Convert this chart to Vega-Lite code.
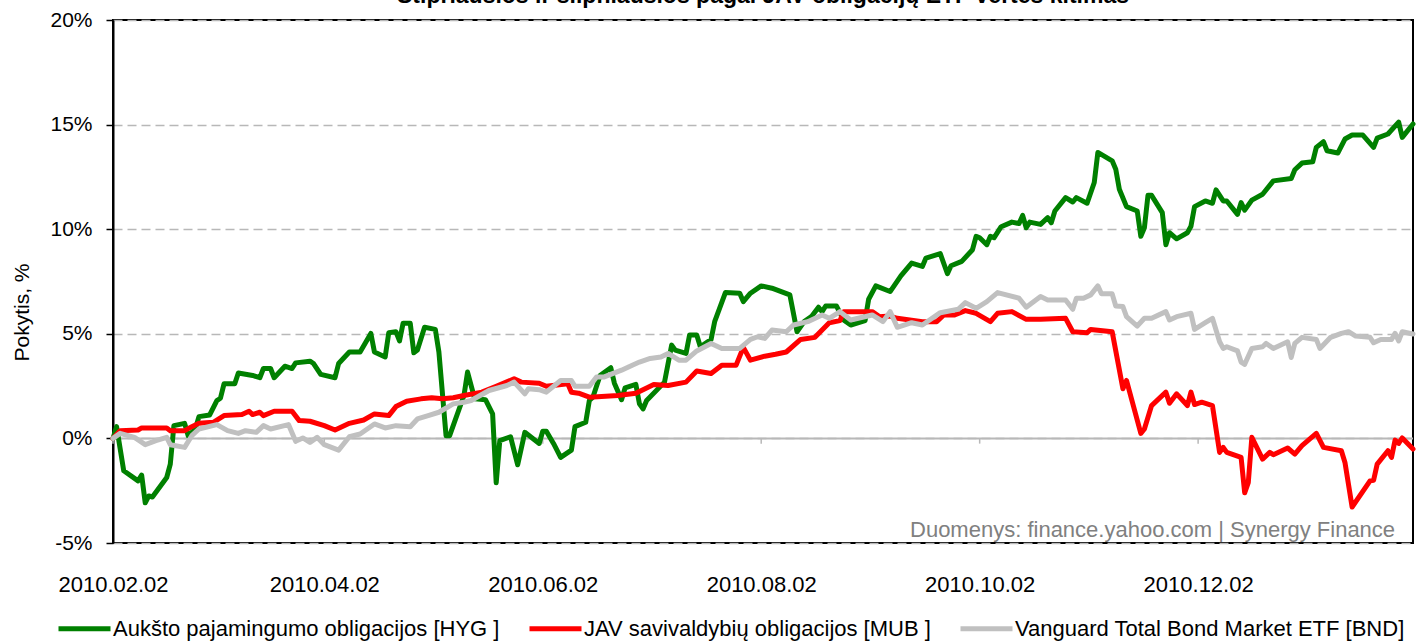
{
"$schema": "https://vega.github.io/schema/vega-lite/v6.json",
"width": 1300, "height": 523,
"autosize": {"type": "none"},
"padding": {"left": 113, "top": 20, "right": 3, "bottom": 98},
"background": "white",
"config": {"view": {"stroke": "#000000", "strokeWidth": 2}, "font": "Liberation Sans"},
"title": {"text": "Stipriausios ir silpniausios pagal JAV obligacijų ETF vertės kitimas", "fontSize": 23, "fontWeight": "bold", "font": "Liberation Sans", "anchor": "middle", "baseline": "alphabetic", "offset": -17, "color": "#000000"},
"datasets": {
"series": [
{"date":"2010-02-02","series":"HYG","value":0},
{"date":"2010-02-03","series":"HYG","value":0.56},
{"date":"2010-02-05","series":"HYG","value":-1.55},
{"date":"2010-02-09","series":"HYG","value":-2.03},
{"date":"2010-02-10","series":"HYG","value":-1.75},
{"date":"2010-02-11","series":"HYG","value":-3.08},
{"date":"2010-02-12","series":"HYG","value":-2.75},
{"date":"2010-02-13","series":"HYG","value":-2.8},
{"date":"2010-02-17","series":"HYG","value":-1.87},
{"date":"2010-02-18","series":"HYG","value":-1.23},
{"date":"2010-02-19","series":"HYG","value":0.61},
{"date":"2010-02-22","series":"HYG","value":0.72},
{"date":"2010-02-23","series":"HYG","value":0.13},
{"date":"2010-02-25","series":"HYG","value":0.45},
{"date":"2010-02-26","series":"HYG","value":1.04},
{"date":"2010-03-01","series":"HYG","value":1.12},
{"date":"2010-03-03","series":"HYG","value":1.81},
{"date":"2010-03-04","series":"HYG","value":1.92},
{"date":"2010-03-05","series":"HYG","value":2.61},
{"date":"2010-03-08","series":"HYG","value":2.61},
{"date":"2010-03-09","series":"HYG","value":3.13},
{"date":"2010-03-13","series":"HYG","value":3.01},
{"date":"2010-03-15","series":"HYG","value":2.9},
{"date":"2010-03-16","series":"HYG","value":3.34},
{"date":"2010-03-18","series":"HYG","value":3.34},
{"date":"2010-03-19","series":"HYG","value":2.9},
{"date":"2010-03-22","series":"HYG","value":3.45},
{"date":"2010-03-24","series":"HYG","value":3.34},
{"date":"2010-03-25","series":"HYG","value":3.61},
{"date":"2010-03-29","series":"HYG","value":3.69},
{"date":"2010-03-30","series":"HYG","value":3.58},
{"date":"2010-04-01","series":"HYG","value":3.06},
{"date":"2010-04-05","series":"HYG","value":2.9},
{"date":"2010-04-06","series":"HYG","value":3.58},
{"date":"2010-04-09","series":"HYG","value":4.13},
{"date":"2010-04-12","series":"HYG","value":4.13},
{"date":"2010-04-15","series":"HYG","value":5.02},
{"date":"2010-04-16","series":"HYG","value":4.13},
{"date":"2010-04-19","series":"HYG","value":3.89},
{"date":"2010-04-20","series":"HYG","value":5.05},
{"date":"2010-04-22","series":"HYG","value":5.1},
{"date":"2010-04-23","series":"HYG","value":4.66},
{"date":"2010-04-24","series":"HYG","value":5.5},
{"date":"2010-04-26","series":"HYG","value":5.5},
{"date":"2010-04-27","series":"HYG","value":4.09},
{"date":"2010-04-28","series":"HYG","value":4.22},
{"date":"2010-04-30","series":"HYG","value":5.31},
{"date":"2010-05-03","series":"HYG","value":5.21},
{"date":"2010-05-04","series":"HYG","value":4.13},
{"date":"2010-05-06","series":"HYG","value":0.13},
{"date":"2010-05-07","series":"HYG","value":0.13},
{"date":"2010-05-11","series":"HYG","value":2.05},
{"date":"2010-05-12","series":"HYG","value":3.17},
{"date":"2010-05-14","series":"HYG","value":1.89},
{"date":"2010-05-17","series":"HYG","value":1.85},
{"date":"2010-05-19","series":"HYG","value":1.17},
{"date":"2010-05-20","series":"HYG","value":-2.12},
{"date":"2010-05-21","series":"HYG","value":-0.11},
{"date":"2010-05-24","series":"HYG","value":0.08},
{"date":"2010-05-26","series":"HYG","value":-1.26},
{"date":"2010-05-28","series":"HYG","value":0.29},
{"date":"2010-06-01","series":"HYG","value":-0.24},
{"date":"2010-06-02","series":"HYG","value":0.34},
{"date":"2010-06-03","series":"HYG","value":0.34},
{"date":"2010-06-05","series":"HYG","value":-0.24},
{"date":"2010-06-07","series":"HYG","value":-0.91},
{"date":"2010-06-10","series":"HYG","value":-0.56},
{"date":"2010-06-11","series":"HYG","value":0.56},
{"date":"2010-06-14","series":"HYG","value":0.77},
{"date":"2010-06-15","series":"HYG","value":1.81},
{"date":"2010-06-16","series":"HYG","value":1.97},
{"date":"2010-06-18","series":"HYG","value":3.01},
{"date":"2010-06-21","series":"HYG","value":3.38},
{"date":"2010-06-22","series":"HYG","value":2.64},
{"date":"2010-06-24","series":"HYG","value":1.85},
{"date":"2010-06-25","series":"HYG","value":2.42},
{"date":"2010-06-28","series":"HYG","value":2.58},
{"date":"2010-06-29","series":"HYG","value":1.65},
{"date":"2010-06-30","series":"HYG","value":1.41},
{"date":"2010-07-01","series":"HYG","value":1.81},
{"date":"2010-07-06","series":"HYG","value":2.69},
{"date":"2010-07-08","series":"HYG","value":4.46},
{"date":"2010-07-09","series":"HYG","value":4.22},
{"date":"2010-07-12","series":"HYG","value":4.06},
{"date":"2010-07-13","series":"HYG","value":4.94},
{"date":"2010-07-15","series":"HYG","value":4.94},
{"date":"2010-07-16","series":"HYG","value":4.38},
{"date":"2010-07-19","series":"HYG","value":4.73},
{"date":"2010-07-20","series":"HYG","value":5.58},
{"date":"2010-07-23","series":"HYG","value":6.97},
{"date":"2010-07-27","series":"HYG","value":6.94},
{"date":"2010-07-28","series":"HYG","value":6.54},
{"date":"2010-07-30","series":"HYG","value":6.94},
{"date":"2010-08-02","series":"HYG","value":7.29},
{"date":"2010-08-05","series":"HYG","value":7.18},
{"date":"2010-08-10","series":"HYG","value":6.86},
{"date":"2010-08-12","series":"HYG","value":5.1},
{"date":"2010-08-14","series":"HYG","value":5.58},
{"date":"2010-08-16","series":"HYG","value":5.82},
{"date":"2010-08-18","series":"HYG","value":6.27},
{"date":"2010-08-19","series":"HYG","value":6.06},
{"date":"2010-08-20","series":"HYG","value":6.33},
{"date":"2010-08-23","series":"HYG","value":6.33},
{"date":"2010-08-25","series":"HYG","value":5.66},
{"date":"2010-08-27","series":"HYG","value":5.42},
{"date":"2010-08-31","series":"HYG","value":5.63},
{"date":"2010-09-01","series":"HYG","value":6.65},
{"date":"2010-09-03","series":"HYG","value":7.29},
{"date":"2010-09-07","series":"HYG","value":7.02},
{"date":"2010-09-10","series":"HYG","value":7.77},
{"date":"2010-09-13","series":"HYG","value":8.38},
{"date":"2010-09-16","series":"HYG","value":8.22},
{"date":"2010-09-17","series":"HYG","value":8.62},
{"date":"2010-09-21","series":"HYG","value":8.83},
{"date":"2010-09-23","series":"HYG","value":7.87},
{"date":"2010-09-24","series":"HYG","value":8.25},
{"date":"2010-09-27","series":"HYG","value":8.46},
{"date":"2010-09-30","series":"HYG","value":9.02},
{"date":"2010-10-01","series":"HYG","value":9.66},
{"date":"2010-10-02","series":"HYG","value":9.59},
{"date":"2010-10-04","series":"HYG","value":9.26},
{"date":"2010-10-05","series":"HYG","value":9.66},
{"date":"2010-10-06","series":"HYG","value":9.59},
{"date":"2010-10-08","series":"HYG","value":10.12},
{"date":"2010-10-11","series":"HYG","value":10.34},
{"date":"2010-10-13","series":"HYG","value":10.27},
{"date":"2010-10-14","series":"HYG","value":10.66},
{"date":"2010-10-15","series":"HYG","value":10.07},
{"date":"2010-10-16","series":"HYG","value":10.34},
{"date":"2010-10-19","series":"HYG","value":10.23},
{"date":"2010-10-21","series":"HYG","value":10.55},
{"date":"2010-10-22","series":"HYG","value":10.31},
{"date":"2010-10-23","series":"HYG","value":10.87},
{"date":"2010-10-26","series":"HYG","value":11.51},
{"date":"2010-10-28","series":"HYG","value":11.3},
{"date":"2010-10-29","series":"HYG","value":11.51},
{"date":"2010-11-01","series":"HYG","value":11.24},
{"date":"2010-11-03","series":"HYG","value":12.23},
{"date":"2010-11-04","series":"HYG","value":13.67},
{"date":"2010-11-08","series":"HYG","value":13.27},
{"date":"2010-11-09","series":"HYG","value":12.87},
{"date":"2010-11-10","series":"HYG","value":11.91},
{"date":"2010-11-12","series":"HYG","value":11.08},
{"date":"2010-11-15","series":"HYG","value":10.87},
{"date":"2010-11-16","series":"HYG","value":9.66},
{"date":"2010-11-17","series":"HYG","value":10.07},
{"date":"2010-11-18","series":"HYG","value":11.62},
{"date":"2010-11-19","series":"HYG","value":11.62},
{"date":"2010-11-22","series":"HYG","value":10.79},
{"date":"2010-11-23","series":"HYG","value":9.26},
{"date":"2010-11-24","series":"HYG","value":9.83},
{"date":"2010-11-26","series":"HYG","value":9.54},
{"date":"2010-11-29","series":"HYG","value":9.83},
{"date":"2010-11-30","series":"HYG","value":10.14},
{"date":"2010-12-01","series":"HYG","value":11.08},
{"date":"2010-12-04","series":"HYG","value":11.35},
{"date":"2010-12-06","series":"HYG","value":11.24},
{"date":"2010-12-07","series":"HYG","value":11.88},
{"date":"2010-12-09","series":"HYG","value":11.35},
{"date":"2010-12-10","series":"HYG","value":11.35},
{"date":"2010-12-13","series":"HYG","value":10.71},
{"date":"2010-12-14","series":"HYG","value":11.27},
{"date":"2010-12-15","series":"HYG","value":10.91},
{"date":"2010-12-17","series":"HYG","value":11.39},
{"date":"2010-12-20","series":"HYG","value":11.67},
{"date":"2010-12-23","series":"HYG","value":12.31},
{"date":"2010-12-28","series":"HYG","value":12.42},
{"date":"2010-12-29","series":"HYG","value":12.84},
{"date":"2010-12-31","series":"HYG","value":13.16},
{"date":"2011-01-03","series":"HYG","value":13.22},
{"date":"2011-01-04","series":"HYG","value":13.91},
{"date":"2011-01-06","series":"HYG","value":14.18},
{"date":"2011-01-07","series":"HYG","value":13.75},
{"date":"2011-01-10","series":"HYG","value":13.64},
{"date":"2011-01-12","series":"HYG","value":14.31},
{"date":"2011-01-14","series":"HYG","value":14.5},
{"date":"2011-01-17","series":"HYG","value":14.5},
{"date":"2011-01-20","series":"HYG","value":13.91},
{"date":"2011-01-21","series":"HYG","value":14.35},
{"date":"2011-01-24","series":"HYG","value":14.55},
{"date":"2011-01-27","series":"HYG","value":15.12},
{"date":"2011-01-28","series":"HYG","value":14.39},
{"date":"2011-01-31","series":"HYG","value":15.03},
{"date":"2010-02-02","series":"MUB","value":0},
{"date":"2010-02-04","series":"MUB","value":0.37},
{"date":"2010-02-09","series":"MUB","value":0.4},
{"date":"2010-02-10","series":"MUB","value":0.5},
{"date":"2010-02-17","series":"MUB","value":0.5},
{"date":"2010-02-18","series":"MUB","value":0.37},
{"date":"2010-02-22","series":"MUB","value":0.37},
{"date":"2010-02-24","series":"MUB","value":0.56},
{"date":"2010-02-26","series":"MUB","value":0.72},
{"date":"2010-03-02","series":"MUB","value":0.77},
{"date":"2010-03-05","series":"MUB","value":1.09},
{"date":"2010-03-10","series":"MUB","value":1.14},
{"date":"2010-03-12","series":"MUB","value":1.3},
{"date":"2010-03-13","series":"MUB","value":1.14},
{"date":"2010-03-15","series":"MUB","value":1.25},
{"date":"2010-03-16","series":"MUB","value":1.09},
{"date":"2010-03-19","series":"MUB","value":1.3},
{"date":"2010-03-24","series":"MUB","value":1.3},
{"date":"2010-03-26","series":"MUB","value":0.85},
{"date":"2010-03-29","series":"MUB","value":0.82},
{"date":"2010-04-02","series":"MUB","value":0.61},
{"date":"2010-04-05","series":"MUB","value":0.4},
{"date":"2010-04-09","series":"MUB","value":0.72},
{"date":"2010-04-13","series":"MUB","value":0.88},
{"date":"2010-04-16","series":"MUB","value":1.17},
{"date":"2010-04-20","series":"MUB","value":1.09},
{"date":"2010-04-22","series":"MUB","value":1.52},
{"date":"2010-04-25","series":"MUB","value":1.78},
{"date":"2010-04-29","series":"MUB","value":1.89},
{"date":"2010-05-02","series":"MUB","value":1.94},
{"date":"2010-05-05","series":"MUB","value":1.89},
{"date":"2010-05-08","series":"MUB","value":1.94},
{"date":"2010-05-11","series":"MUB","value":2.05},
{"date":"2010-05-16","series":"MUB","value":2.21},
{"date":"2010-05-20","series":"MUB","value":2.49},
{"date":"2010-05-25","series":"MUB","value":2.85},
{"date":"2010-05-27","series":"MUB","value":2.69},
{"date":"2010-06-01","series":"MUB","value":2.64},
{"date":"2010-06-03","series":"MUB","value":2.49},
{"date":"2010-06-09","series":"MUB","value":2.61},
{"date":"2010-06-10","series":"MUB","value":2.21},
{"date":"2010-06-12","series":"MUB","value":2.16},
{"date":"2010-06-15","series":"MUB","value":1.97},
{"date":"2010-06-23","series":"MUB","value":2.05},
{"date":"2010-06-28","series":"MUB","value":2.16},
{"date":"2010-07-03","series":"MUB","value":2.58},
{"date":"2010-07-07","series":"MUB","value":2.53},
{"date":"2010-07-12","series":"MUB","value":2.69},
{"date":"2010-07-15","series":"MUB","value":3.22},
{"date":"2010-07-19","series":"MUB","value":3.1},
{"date":"2010-07-22","series":"MUB","value":3.5},
{"date":"2010-07-26","series":"MUB","value":3.5},
{"date":"2010-07-28","series":"MUB","value":4.35},
{"date":"2010-07-30","series":"MUB","value":3.74},
{"date":"2010-08-03","series":"MUB","value":3.93},
{"date":"2010-08-06","series":"MUB","value":4.02},
{"date":"2010-08-09","series":"MUB","value":4.13},
{"date":"2010-08-13","series":"MUB","value":4.73},
{"date":"2010-08-17","series":"MUB","value":4.83},
{"date":"2010-08-21","series":"MUB","value":5.53},
{"date":"2010-08-24","series":"MUB","value":5.63},
{"date":"2010-08-25","series":"MUB","value":6.06},
{"date":"2010-09-02","series":"MUB","value":6.06},
{"date":"2010-09-04","series":"MUB","value":5.82},
{"date":"2010-09-07","series":"MUB","value":5.85},
{"date":"2010-09-09","series":"MUB","value":5.74},
{"date":"2010-09-16","series":"MUB","value":5.58},
{"date":"2010-09-20","series":"MUB","value":5.58},
{"date":"2010-09-22","series":"MUB","value":5.9},
{"date":"2010-09-25","series":"MUB","value":5.9},
{"date":"2010-09-28","series":"MUB","value":6.11},
{"date":"2010-10-01","series":"MUB","value":5.98},
{"date":"2010-10-05","series":"MUB","value":5.58},
{"date":"2010-10-07","series":"MUB","value":5.98},
{"date":"2010-10-11","series":"MUB","value":6.06},
{"date":"2010-10-15","series":"MUB","value":5.69},
{"date":"2010-10-19","series":"MUB","value":5.69},
{"date":"2010-10-26","series":"MUB","value":5.74},
{"date":"2010-10-28","series":"MUB","value":5.1},
{"date":"2010-11-01","series":"MUB","value":5.05},
{"date":"2010-11-02","series":"MUB","value":5.21},
{"date":"2010-11-08","series":"MUB","value":5.1},
{"date":"2010-11-11","series":"MUB","value":2.37},
{"date":"2010-11-12","series":"MUB","value":2.77},
{"date":"2010-11-16","series":"MUB","value":0.24},
{"date":"2010-11-17","series":"MUB","value":0.45},
{"date":"2010-11-19","series":"MUB","value":1.57},
{"date":"2010-11-23","series":"MUB","value":2.21},
{"date":"2010-11-24","series":"MUB","value":1.68},
{"date":"2010-11-26","series":"MUB","value":2.13},
{"date":"2010-11-29","series":"MUB","value":1.57},
{"date":"2010-11-30","series":"MUB","value":2.21},
{"date":"2010-12-01","series":"MUB","value":1.62},
{"date":"2010-12-03","series":"MUB","value":1.73},
{"date":"2010-12-06","series":"MUB","value":1.57},
{"date":"2010-12-08","series":"MUB","value":-0.67},
{"date":"2010-12-09","series":"MUB","value":-0.43},
{"date":"2010-12-10","series":"MUB","value":-0.67},
{"date":"2010-12-14","series":"MUB","value":-0.91},
{"date":"2010-12-15","series":"MUB","value":-2.6},
{"date":"2010-12-16","series":"MUB","value":-2.12},
{"date":"2010-12-17","series":"MUB","value":0.05},
{"date":"2010-12-20","series":"MUB","value":-0.99},
{"date":"2010-12-22","series":"MUB","value":-0.67},
{"date":"2010-12-23","series":"MUB","value":-0.78},
{"date":"2010-12-27","series":"MUB","value":-0.46},
{"date":"2010-12-29","series":"MUB","value":-0.75},
{"date":"2010-12-31","series":"MUB","value":-0.35},
{"date":"2011-01-04","series":"MUB","value":0.24},
{"date":"2011-01-06","series":"MUB","value":-0.43},
{"date":"2011-01-11","series":"MUB","value":-0.59},
{"date":"2011-01-12","series":"MUB","value":-1.15},
{"date":"2011-01-14","series":"MUB","value":-3.28},
{"date":"2011-01-19","series":"MUB","value":-2.03},
{"date":"2011-01-20","series":"MUB","value":-2.0},
{"date":"2011-01-21","series":"MUB","value":-1.23},
{"date":"2011-01-24","series":"MUB","value":-0.59},
{"date":"2011-01-25","series":"MUB","value":-0.91},
{"date":"2011-01-26","series":"MUB","value":-0.08},
{"date":"2011-01-27","series":"MUB","value":-0.24},
{"date":"2011-01-28","series":"MUB","value":0.02},
{"date":"2011-01-31","series":"MUB","value":-0.51},
{"date":"2010-02-02","series":"BND","value":0},
{"date":"2010-02-04","series":"BND","value":0.24},
{"date":"2010-02-08","series":"BND","value":0.05},
{"date":"2010-02-11","series":"BND","value":-0.3},
{"date":"2010-02-14","series":"BND","value":-0.11},
{"date":"2010-02-17","series":"BND","value":0.05},
{"date":"2010-02-18","series":"BND","value":-0.3},
{"date":"2010-02-22","series":"BND","value":-0.43},
{"date":"2010-02-24","series":"BND","value":0.13},
{"date":"2010-02-26","series":"BND","value":0.45},
{"date":"2010-03-03","series":"BND","value":0.66},
{"date":"2010-03-06","series":"BND","value":0.37},
{"date":"2010-03-09","series":"BND","value":0.24},
{"date":"2010-03-11","series":"BND","value":0.37},
{"date":"2010-03-14","series":"BND","value":0.29},
{"date":"2010-03-16","series":"BND","value":0.61},
{"date":"2010-03-18","series":"BND","value":0.45},
{"date":"2010-03-23","series":"BND","value":0.66},
{"date":"2010-03-25","series":"BND","value":-0.14},
{"date":"2010-03-27","series":"BND","value":0.02},
{"date":"2010-03-29","series":"BND","value":-0.19},
{"date":"2010-03-31","series":"BND","value":0.05},
{"date":"2010-04-02","series":"BND","value":-0.3},
{"date":"2010-04-06","series":"BND","value":-0.56},
{"date":"2010-04-09","series":"BND","value":0.08},
{"date":"2010-04-12","series":"BND","value":0.21},
{"date":"2010-04-16","series":"BND","value":0.69},
{"date":"2010-04-19","series":"BND","value":0.5},
{"date":"2010-04-22","series":"BND","value":0.61},
{"date":"2010-04-26","series":"BND","value":0.56},
{"date":"2010-04-28","series":"BND","value":0.93},
{"date":"2010-05-01","series":"BND","value":1.09},
{"date":"2010-05-04","series":"BND","value":1.25},
{"date":"2010-05-08","series":"BND","value":1.65},
{"date":"2010-05-11","series":"BND","value":1.73},
{"date":"2010-05-13","series":"BND","value":1.81},
{"date":"2010-05-18","series":"BND","value":2.29},
{"date":"2010-05-23","series":"BND","value":2.53},
{"date":"2010-05-25","series":"BND","value":2.69},
{"date":"2010-05-28","series":"BND","value":2.13},
{"date":"2010-05-29","series":"BND","value":2.37},
{"date":"2010-06-01","series":"BND","value":2.33},
{"date":"2010-06-03","series":"BND","value":2.21},
{"date":"2010-06-07","series":"BND","value":2.77},
{"date":"2010-06-10","series":"BND","value":2.77},
{"date":"2010-06-11","series":"BND","value":2.49},
{"date":"2010-06-15","series":"BND","value":2.49},
{"date":"2010-06-17","series":"BND","value":2.93},
{"date":"2010-06-19","series":"BND","value":2.93},
{"date":"2010-06-24","series":"BND","value":3.26},
{"date":"2010-06-27","series":"BND","value":3.5},
{"date":"2010-06-29","series":"BND","value":3.65},
{"date":"2010-07-02","series":"BND","value":3.82},
{"date":"2010-07-05","series":"BND","value":3.89},
{"date":"2010-07-07","series":"BND","value":4.06},
{"date":"2010-07-10","series":"BND","value":3.74},
{"date":"2010-07-12","series":"BND","value":3.74},
{"date":"2010-07-15","series":"BND","value":4.18},
{"date":"2010-07-19","series":"BND","value":4.54},
{"date":"2010-07-22","series":"BND","value":4.3},
{"date":"2010-07-27","series":"BND","value":4.3},
{"date":"2010-07-30","series":"BND","value":4.73},
{"date":"2010-08-01","series":"BND","value":4.86},
{"date":"2010-08-03","series":"BND","value":4.78},
{"date":"2010-08-05","series":"BND","value":5.18},
{"date":"2010-08-09","series":"BND","value":5.1},
{"date":"2010-08-11","series":"BND","value":5.42},
{"date":"2010-08-15","series":"BND","value":5.58},
{"date":"2010-08-19","series":"BND","value":5.9},
{"date":"2010-08-21","series":"BND","value":5.74},
{"date":"2010-08-24","series":"BND","value":6.06},
{"date":"2010-08-27","series":"BND","value":5.66},
{"date":"2010-09-02","series":"BND","value":5.9},
{"date":"2010-09-05","series":"BND","value":5.58},
{"date":"2010-09-07","series":"BND","value":6.06},
{"date":"2010-09-09","series":"BND","value":5.31},
{"date":"2010-09-13","series":"BND","value":5.53},
{"date":"2010-09-16","series":"BND","value":5.42},
{"date":"2010-09-21","series":"BND","value":6.01},
{"date":"2010-09-26","series":"BND","value":6.17},
{"date":"2010-09-28","series":"BND","value":6.49},
{"date":"2010-10-01","series":"BND","value":6.22},
{"date":"2010-10-04","series":"BND","value":6.54},
{"date":"2010-10-07","series":"BND","value":6.97},
{"date":"2010-10-13","series":"BND","value":6.7},
{"date":"2010-10-15","series":"BND","value":6.27},
{"date":"2010-10-19","series":"BND","value":6.78},
{"date":"2010-10-21","series":"BND","value":6.62},
{"date":"2010-10-26","series":"BND","value":6.62},
{"date":"2010-10-28","series":"BND","value":6.17},
{"date":"2010-10-29","series":"BND","value":6.7},
{"date":"2010-10-31","series":"BND","value":6.7},
{"date":"2010-11-02","series":"BND","value":6.86},
{"date":"2010-11-04","series":"BND","value":7.29},
{"date":"2010-11-05","series":"BND","value":6.91},
{"date":"2010-11-08","series":"BND","value":6.91},
{"date":"2010-11-09","series":"BND","value":6.33},
{"date":"2010-11-11","series":"BND","value":6.3},
{"date":"2010-11-12","series":"BND","value":5.82},
{"date":"2010-11-15","series":"BND","value":5.37},
{"date":"2010-11-17","series":"BND","value":5.74},
{"date":"2010-11-19","series":"BND","value":5.74},
{"date":"2010-11-23","series":"BND","value":6.06},
{"date":"2010-11-24","series":"BND","value":5.66},
{"date":"2010-11-26","series":"BND","value":5.82},
{"date":"2010-11-30","series":"BND","value":5.98},
{"date":"2010-12-01","series":"BND","value":5.21},
{"date":"2010-12-04","series":"BND","value":5.53},
{"date":"2010-12-06","series":"BND","value":5.74},
{"date":"2010-12-08","series":"BND","value":4.62},
{"date":"2010-12-09","series":"BND","value":4.3},
{"date":"2010-12-10","series":"BND","value":4.38},
{"date":"2010-12-13","series":"BND","value":4.18},
{"date":"2010-12-14","series":"BND","value":3.65},
{"date":"2010-12-15","series":"BND","value":3.54},
{"date":"2010-12-17","series":"BND","value":4.3},
{"date":"2010-12-20","series":"BND","value":4.38},
{"date":"2010-12-21","series":"BND","value":4.54},
{"date":"2010-12-23","series":"BND","value":4.3},
{"date":"2010-12-27","series":"BND","value":4.62},
{"date":"2010-12-28","series":"BND","value":3.87},
{"date":"2010-12-29","series":"BND","value":4.54},
{"date":"2010-12-31","series":"BND","value":4.83},
{"date":"2011-01-04","series":"BND","value":4.73},
{"date":"2011-01-05","series":"BND","value":4.3},
{"date":"2011-01-08","series":"BND","value":4.83},
{"date":"2011-01-11","series":"BND","value":5.02},
{"date":"2011-01-13","series":"BND","value":5.1},
{"date":"2011-01-15","series":"BND","value":4.89},
{"date":"2011-01-19","series":"BND","value":4.83},
{"date":"2011-01-20","series":"BND","value":4.57},
{"date":"2011-01-22","series":"BND","value":4.73},
{"date":"2011-01-25","series":"BND","value":4.73},
{"date":"2011-01-26","series":"BND","value":5.02},
{"date":"2011-01-27","series":"BND","value":4.66},
{"date":"2011-01-28","series":"BND","value":5.1},
{"date":"2011-01-31","series":"BND","value":4.99}
],
"ticks": [
{"date":"2010-02-02","top":0,"bottom":-0.25},
{"date":"2010-04-02","top":0,"bottom":-0.25},
{"date":"2010-06-02","top":0,"bottom":-0.25},
{"date":"2010-08-02","top":0,"bottom":-0.25},
{"date":"2010-10-02","top":0,"bottom":-0.25},
{"date":"2010-12-02","top":0,"bottom":-0.25}
],
"note": [{"date":"2011-01-26","value":-4.73,"label":"Duomenys: finance.yahoo.com  | Synergy Finance"}]
},
"layer": [
{"data": {"values": [{"value": 0}]}, "mark": {"type": "rule", "color": "#b8b8b8", "strokeWidth": 2}, "encoding": {"y": {"field": "value", "type": "quantitative", "scale": {"domain": [-5, 20], "nice": false}}}},
{"data": {"name": "ticks"}, "mark": {"type": "rule", "color": "#b8b8b8", "strokeWidth": 1.5}, "encoding": {"x": {"field": "date", "type": "temporal"}, "y": {"field": "top", "type": "quantitative"}, "y2": {"field": "bottom"}}},
{"data": {"name": "series"},
 "mark": {"type": "line", "strokeWidth": 5, "strokeJoin": "round", "strokeCap": "round"},
 "encoding": {
  "x": {"field": "date", "type": "temporal",
    "scale": {"domain": [{"year": 2010, "month": 2, "date": 2}, {"year": 2011, "month": 1, "date": 31}], "nice": false},
    "axis": {"title": null, "format": "%Y.%m.%d", "values": [{"year": 2010, "month": 2, "date": 2}, {"year": 2010, "month": 4, "date": 2}, {"year": 2010, "month": 6, "date": 2}, {"year": 2010, "month": 8, "date": 2}, {"year": 2010, "month": 10, "date": 2}, {"year": 2010, "month": 12, "date": 2}],
      "ticks": false, "domain": false, "grid": false, "labelFontSize": 22, "labelFont": "Liberation Sans", "labelColor": "#000000", "labelPadding": 41, "labelBaseline": "middle", "labelFlush": false, "labelOverlap": false}},
  "y": {"field": "value", "type": "quantitative",
    "scale": {"domain": [-5, 20], "nice": false},
    "axis": {"title": "Pokytis, %", "titleFontSize": 21, "titleFont": "Liberation Sans", "titleFontWeight": "normal", "titleColor": "#000000", "titleX": -91, "titleY": 292, "titleAngle": -90, "titleBaseline": "middle", "titleAlign": "center",
      "values": [-5, 0, 5, 10, 15, 20], "labelExpr": "datum.value + '%'", "labelFontSize": 21, "labelFont": "Liberation Sans", "labelColor": "#000000", "labelPadding": 14, "labelBaseline": "middle", "labelFlush": false,
      "tickSize": 7, "tickColor": "#000000", "tickWidth": 1.5, "domainColor": "#000000", "domainWidth": 2,
      "grid": true, "gridColor": "#b8b8b8", "gridDash": [9, 5], "gridWidth": 1.5}},
  "color": {"field": "series", "type": "nominal",
    "scale": {"domain": ["HYG", "MUB", "BND"], "range": ["#008000", "#ff0000", "#c0c0c0"]},
    "legend": {"title": null, "orient": "none", "legendX": -57, "legendY": 580, "direction": "horizontal",
      "labelExpr": "datum.value === 'HYG' ? 'Aukšto pajamingumo  obligacijos [HYG ]' : datum.value === 'MUB' ? 'JAV savivaldybių  obligacijos [MUB ]' : 'Vanguard Total  Bond Market ETF [BND]'",
      "symbolType": "stroke", "symbolStrokeWidth": 5, "symbolSize": 2704, "labelFontSize": 22, "labelFont": "Liberation Sans", "labelColor": "#000000", "labelLimit": 700, "labelOffset": 0, "columnPadding": 13, "symbolOffset": 0}}
 }},
{"data": {"name": "note"}, "mark": {"type": "text", "align": "right", "baseline": "alphabetic", "fontSize": 22, "font": "Liberation Sans", "color": "#808080"},
 "encoding": {"x": {"field": "date", "type": "temporal"}, "y": {"field": "value", "type": "quantitative"}, "text": {"field": "label"}}}
]
}
